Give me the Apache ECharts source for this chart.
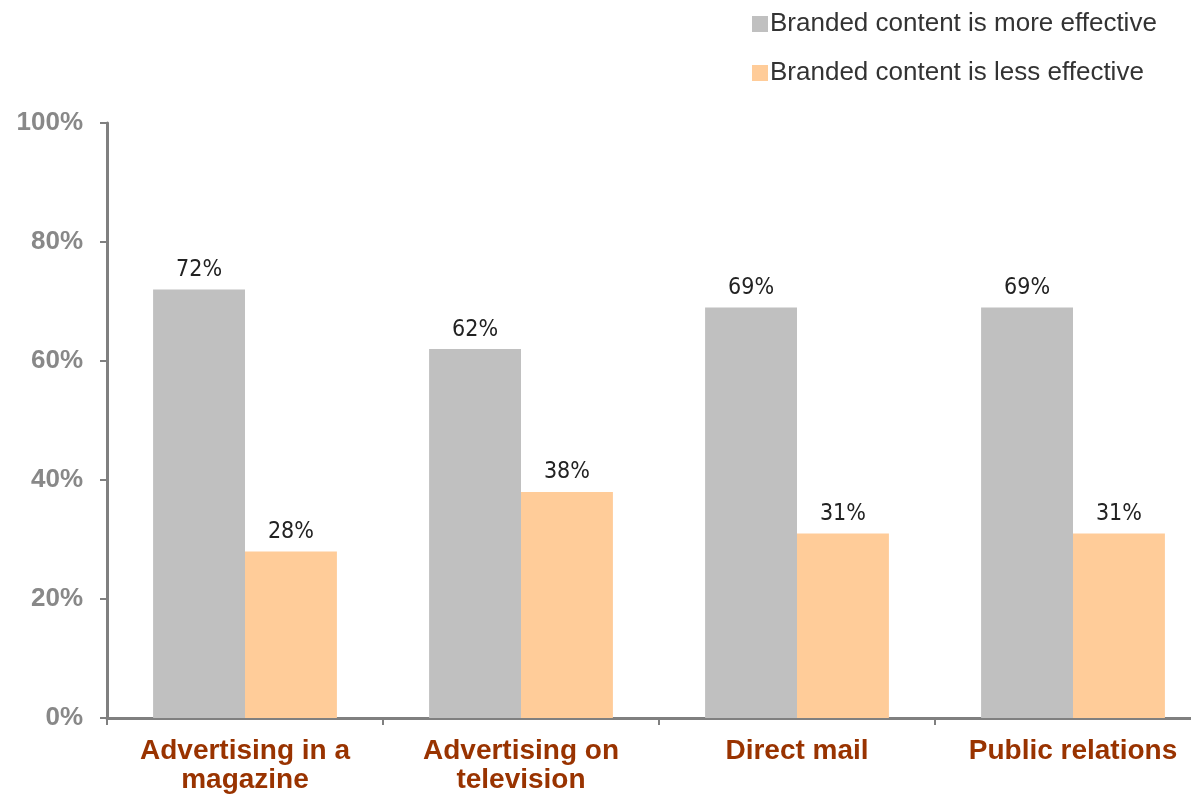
<!DOCTYPE html>
<html><head><meta charset="utf-8">
<script src="https://cdn.jsdelivr.net/npm/echarts@6/dist/echarts.min.js"></script>
<style>html,body{margin:0;padding:0;background:#fff;overflow:hidden}#c{width:1211px;height:795px}</style>
</head><body><div id="c"></div>
<script>
var categories = ['Advertising in a\nmagazine', 'Advertising on\ntelevision', 'Direct mail', 'Public relations'];
var moreEffective = [72, 62, 69, 69];
var lessEffective = [28, 38, 31, 31];
var seriesNames = ['Branded content is more effective', 'Branded content is less effective'];
var yTicks = [0, 20, 40, 60, 80, 100];

var chart = echarts.init(document.getElementById('c'));
var labelStyle = {
  show: true, position: 'top', distance: 8,
  formatter: '{c}%', color: '#222',
  fontFamily: 'DejaVu Sans Condensed', fontSize: 23
};
chart.setOption({
  animation: false,
  legend: {
    orient: 'vertical', left: 747, top: 6,
    itemWidth: 16, itemHeight: 16, itemGap: 23,
    icon: 'rect',
    textStyle: { fontFamily: 'Liberation Sans', fontSize: 26, color: '#333', padding: [0,0,0,-3] },
    data: seriesNames
  },
  grid: { left: 107, top: 123, right: 0, bottom: 77, containLabel: false },
  xAxis: {
    type: 'category', data: categories,
    axisLine: { lineStyle: { color: '#808080', width: 3 } },
    axisTick: { show: true, length: 7, lineStyle: { color: '#808080', width: 2 } },
    axisLabel: { interval: 0, color: '#993300', fontFamily: 'Liberation Sans', fontWeight: 'bold', fontSize: 28, lineHeight: 29, margin: 19 }
  },
  yAxis: {
    type: 'value', min: 0, max: 100, interval: 20,
    axisLine: { show: true, lineStyle: { color: '#808080', width: 3 } },
    axisTick: { show: true, length: 7, lineStyle: { color: '#808080', width: 2 } },
    splitLine: { show: false },
    axisLabel: { color: '#888', fontFamily: 'Liberation Sans', fontWeight: 'bold', fontSize: 26, margin: 24, formatter: function(v){ return yTicks.indexOf(v) >= 0 ? v + '%' : ''; } }
  },
  series: [
    { name: seriesNames[0], type: 'bar', data: moreEffective, barWidth: '33.3%', barGap: '0%',
      itemStyle: { color: '#c0c0c0' }, label: labelStyle },
    { name: seriesNames[1], type: 'bar', data: lessEffective, barWidth: '33.3%', barGap: '0%',
      itemStyle: { color: '#ffcc99' }, label: labelStyle }
  ]
});
</script></body></html>
